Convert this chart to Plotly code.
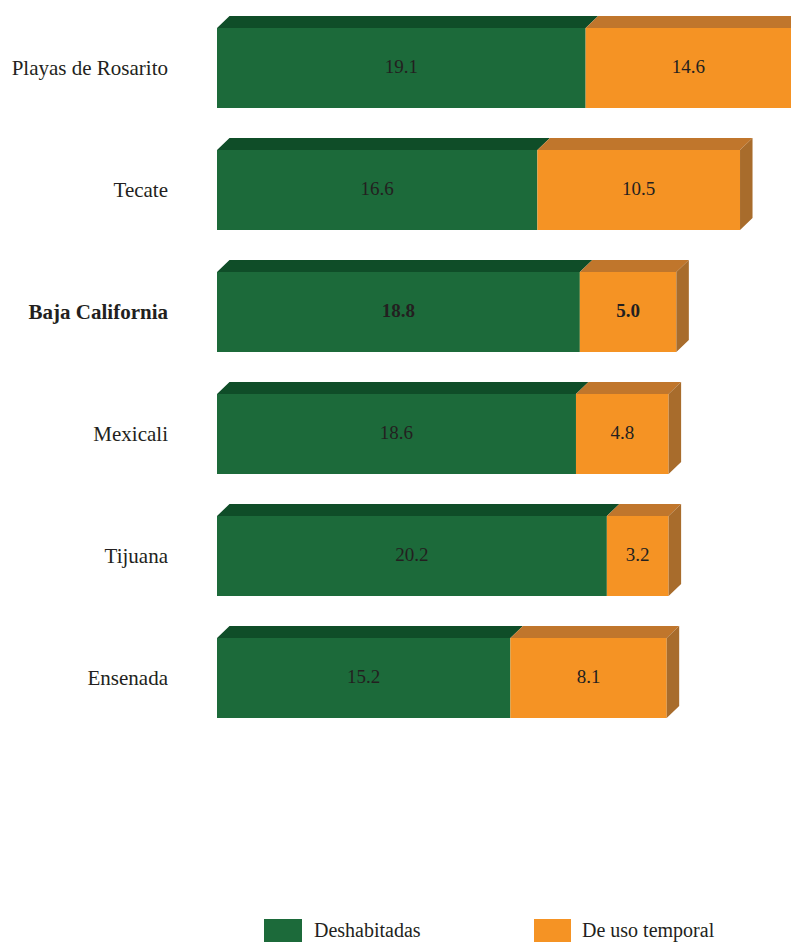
import plotly.graph_objects as go

# ---- data (bottom to top) ----
categories = ["Ensenada", "Tijuana", "Mexicali", "Baja California", "Tecate", "Playas de Rosarito"]
deshabitadas = [15.2, 20.2, 18.6, 18.8, 16.6, 19.1]
uso_temporal = [8.1, 3.2, 4.8, 5.0, 10.5, 14.6]
bold_category = "Baja California"
series_names = ["Deshabitadas", "De uso temporal"]

# ---- styling ----
OFF = 8  # page body margin
W, H = 799, 942 - OFF
L_MARGIN = 217 - OFF
PX_PER_UNIT = 19.3
PX_PER_ROW = 122
XMAX = (W - L_MARGIN) / PX_PER_UNIT
VISIBLE_XMAX = (799 - OFF - OFF - L_MARGIN) / PX_PER_UNIT
Y_TOP_CENTER_PX = 68 - OFF
n = len(categories)
ypos = list(range(n))
YMAX = (n - 1) + Y_TOP_CENTER_PX / PX_PER_ROW
YMIN = YMAX - H / PX_PER_ROW

BAR_W = 80 / PX_PER_ROW
h = BAR_W / 2
DX = 12.5 / PX_PER_UNIT
DY = 12 / PX_PER_ROW

GREEN = "rgb(28,106,58)"
GREEN_TOP = "rgb(15,77,40)"
ORANGE = "rgb(245,147,36)"
ORANGE_TOP = "rgb(192,118,44)"
ORANGE_SIDE = "rgb(168,108,44)"
TEXT = "#231f20"
FONT = "Liberation Serif, DejaVu Serif, serif"

fig = go.Figure()

# front faces
fig.add_trace(go.Bar(y=ypos, x=deshabitadas, base=[0] * n, orientation="h", width=BAR_W,
                     marker=dict(color=GREEN, line=dict(width=0)), name=series_names[0],
                     showlegend=False, hoverinfo="x"))
fig.add_trace(go.Bar(y=ypos, x=uso_temporal, base=deshabitadas, orientation="h", width=BAR_W,
                     marker=dict(color=ORANGE, line=dict(width=0)), name=series_names[1],
                     showlegend=False, hoverinfo="x"))


def top_face(starts, ends):
    xs, ys = [], []
    for y, a, b in zip(ypos, starts, ends):
        xs += [a, a + DX, b + DX, b, a, None]
        ys += [y + h, y + h + DY, y + h + DY, y + h, y + h, None]
    return xs, ys


g_end = deshabitadas
o_end = [a + b for a, b in zip(deshabitadas, uso_temporal)]

xs, ys = top_face([0] * n, g_end)
fig.add_trace(go.Scatter(x=xs, y=ys, mode="lines", fill="toself", fillcolor=GREEN_TOP,
                         line=dict(width=0), hoverinfo="skip", showlegend=False))
xs, ys = top_face(g_end, o_end)
fig.add_trace(go.Scatter(x=xs, y=ys, mode="lines", fill="toself", fillcolor=ORANGE_TOP,
                         line=dict(width=0), hoverinfo="skip", showlegend=False))

# side faces
sx, sy = [], []
for y, b in zip(ypos, o_end):
    sx += [b, b + DX, b + DX, b, b, None]
    sy += [y - h, y - h + DY, y + h + DY, y + h, y - h, None]
fig.add_trace(go.Scatter(x=sx, y=sy, mode="lines", fill="toself", fillcolor=ORANGE_SIDE,
                         line=dict(width=0), hoverinfo="skip", showlegend=False))


# value labels (centred on the visible part of each segment)
def fmt(v, cat):
    s = f"{v:.1f}"
    return f"<b>{s}</b>" if cat == bold_category else s


gx = [(0 + min(e, VISIBLE_XMAX)) / 2 for e in g_end]
ox = [(s + min(e, VISIBLE_XMAX)) / 2 for s, e in zip(g_end, o_end)]
fig.add_trace(go.Scatter(x=gx + ox, y=ypos + ypos, mode="text",
                         text=[fmt(v, c) for v, c in zip(deshabitadas, categories)] +
                              [fmt(v, c) for v, c in zip(uso_temporal, categories)],
                         textfont=dict(family=FONT, size=19, color=TEXT),
                         hoverinfo="skip", showlegend=False))

ticktext = [f"<b>{c}</b>" if c == bold_category else c for c in categories]

fig.update_layout(
    width=W, height=H,
    margin=dict(l=L_MARGIN, r=0, t=0, b=0),
    paper_bgcolor="white", plot_bgcolor="white",
    barmode="overlay",
    font=dict(family=FONT, size=20, color=TEXT),
    xaxis=dict(range=[0, XMAX], visible=False, fixedrange=True),
    yaxis=dict(range=[YMIN, YMAX], tickvals=ypos, ticktext=ticktext, showgrid=False,
               zeroline=False, showline=False, ticks="", ticklabelstandoff=48,
               tickfont=dict(family=FONT, size=21, color=TEXT), fixedrange=True),
)

# legend (drawn manually to match large colour swatches)
px_w = W - L_MARGIN


def px_x(p):
    return (p - OFF - L_MARGIN) / px_w


def px_y(p):
    return (H - (p - OFF)) / H


legend_items = [(series_names[0], GREEN, 264, 302, 312), (series_names[1], ORANGE, 534, 571, 580)]
for name, col, x0, x1, tx in legend_items:
    fig.add_shape(type="rect", xref="paper", yref="paper", x0=px_x(x0), x1=px_x(x1),
                  y0=0, y1=px_y(919), fillcolor=col, line=dict(width=0), layer="above")
    fig.add_annotation(xref="paper", yref="paper", x=px_x(tx), y=px_y(930), text=name,
                       showarrow=False, xanchor="left", yanchor="middle",
                       font=dict(family=FONT, size=20, color=TEXT))

fig.write_html("out.html")
